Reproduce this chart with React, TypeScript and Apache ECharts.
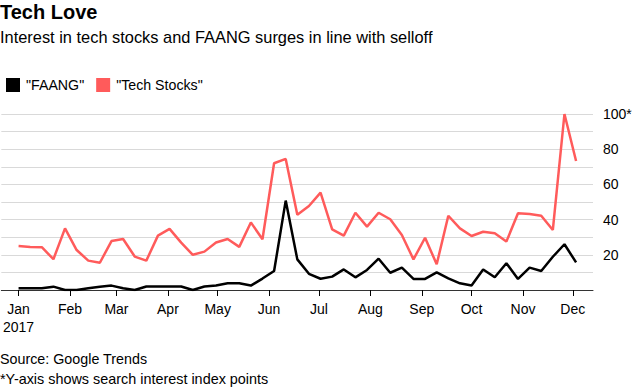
import React, { useEffect, useRef } from "react";
import * as echarts from "echarts";

// Weekly Google Trends interest, weeks starting Sunday 2017-01-01
const FIRST_WEEK = "2017-01-01";
const faang = [
  1, 1, 1, 1.9, 0, 0, 1, 1.9, 2.5, 1, 0, 2, 2, 2, 2, 0, 2, 2.5, 3.8, 3.8,
  2.5, 6.5, 10.8, 50.8, 17.4, 9.2, 6.4, 7.6, 11.7, 7.2, 11.4, 17.8, 9.8, 12.7,
  6.3, 6.3, 10, 6.6, 3.8, 2.5, 11.7, 7.2, 15.2, 6.3, 12.7, 10.8, 18.9, 26, 15.7,
];
const techStocks = [
  25, 24.5, 24.3, 17.5, 35, 22.7, 16.7, 15.5, 27.8, 29, 19, 16.7, 30.9, 34.7,
  26.9, 20, 21.8, 27, 29, 24.5, 38.4, 28.8, 72, 74.5, 42.8, 47.7, 55.3, 34.5,
  30.9, 43.9, 36, 43.9, 40.2, 31.3, 17.4, 29.7, 14.6, 42.2, 35, 30.7, 33.1,
  32.2, 27.5, 43.6, 43.2, 42.2, 34.1, 100, 73.3,
];
const monthLabels = ["Jan", "Feb", "Mar", "Apr", "May", "Jun", "Jul", "Aug", "Sep", "Oct", "Nov", "Dec"];
const yTickLabels = [20, 40, 60, 80, 100];

const FONT = "'Liberation Sans', Arial, Helvetica, sans-serif";
const DAY = 86400000;

export default function App() {
  const ref = useRef<HTMLDivElement>(null);

  useEffect(() => {
    if (!ref.current) return;
    const chart = echarts.init(ref.current, undefined, { renderer: "svg" });
    const start = Date.parse(FIRST_WEEK + "T00:00:00Z");
    const dayOf = (i: number) => i * 7;
    const monthOffsets = monthLabels.map((_, m) => Math.round((Date.UTC(2017, m, 1) - start) / DAY));
    const labelFor = (v: number) => {
      const idx = monthOffsets.findIndex((o) => Math.abs(o - v) < 0.5);
      if (idx < 0) return "";
      return idx === 0 ? monthLabels[idx] + "\n2017" : monthLabels[idx];
    };

    chart.setOption({
      animation: false,
      textStyle: { fontFamily: FONT },
      grid: { left: 0, right: 42, top: 114, bottom: 100, containLabel: false },
      legend: {
        left: 1,
        top: 73,
        icon: "rect",
        itemWidth: 14,
        itemHeight: 14,
        itemGap: 12,
        itemStyle: { borderWidth: 0 },
        textStyle: { fontSize: 14.2, color: "#000", fontFamily: FONT, padding: [0, 0, 0, 1] },
        data: ['"FAANG"', '"Tech Stocks"'],
      },
      xAxis: {
        type: "value",
        min: -10.4,
        max: 346.2,
        splitLine: { show: false },
        axisLine: { show: true, lineStyle: { color: "#333", width: 1 } },
        axisTick: { show: true, customValues: monthOffsets, length: 6, lineStyle: { color: "#000", width: 1 } },
        axisLabel: {
          customValues: monthOffsets,
          formatter: (v: number) => labelFor(v),
          fontSize: 14,
          color: "#000",
          lineHeight: 18,
          margin: 10,
          fontFamily: FONT,
        },
      },
      yAxis: {
        type: "value",
        position: "right",
        min: 0,
        max: 100,
        interval: 10,
        axisLine: { show: false },
        axisTick: { show: false },
        splitLine: { show: true, lineStyle: { color: "#d9d9d9", width: 1 } },
        axisLabel: {
          margin: 10,
          fontSize: 14,
          color: "#000",
          fontFamily: FONT,
          formatter: (v: number) => (yTickLabels.includes(v) ? (v === 100 ? "100*" : String(v)) : ""),
        },
      },
      series: [
        {
          name: '"FAANG"',
          type: "line",
          showSymbol: false,
          symbol: "none",
          color: "#000000",
          lineStyle: { color: "#000000", width: 2.5 },
          data: faang.map((v, i) => [dayOf(i), v]),
          z: 3,
        },
        {
          name: '"Tech Stocks"',
          type: "line",
          showSymbol: false,
          symbol: "none",
          color: "#ff5b5b",
          lineStyle: { color: "#ff5b5b", width: 2.5 },
          data: techStocks.map((v, i) => [dayOf(i), v]),
          z: 2,
        },
      ],
      graphic: [
        {
          type: "text",
          left: 0,
          top: 2,
          style: { text: "Tech Love", font: `bold 20px ${FONT}`, fill: "#000" },
        },
        {
          type: "text",
          left: 0,
          top: 29,
          style: { text: "Interest in tech stocks and FAANG surges in line with selloff", font: `16.4px ${FONT}`, fill: "#000" },
        },
        {
          type: "text",
          left: 0,
          top: 352,
          style: { text: "Source: Google Trends", font: `14.3px ${FONT}`, fill: "#000" },
        },
        {
          type: "text",
          left: 0,
          top: 372,
          style: { text: "*Y-axis shows search interest index points", font: `14.4px ${FONT}`, fill: "#000" },
        },
      ],
    });
    return () => chart.dispose();
  }, []);

  return (
    <div
      ref={ref}
      style={{ position: "absolute", left: 0, top: 0, width: 635, height: 390, background: "#fff" }}
    />
  );
}
